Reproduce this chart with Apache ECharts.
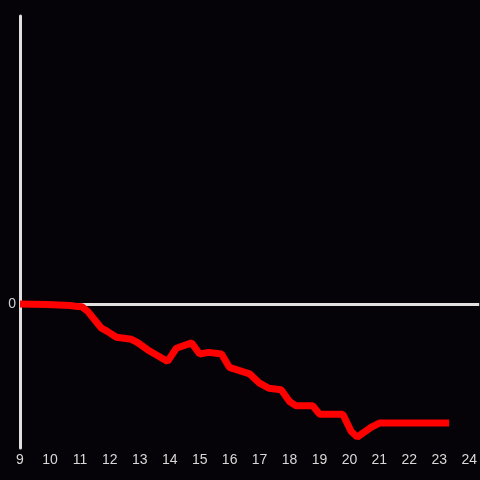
<!DOCTYPE html>
<html>
<head>
<meta charset="utf-8">
<script src="https://cdn.jsdelivr.net/npm/echarts@6/dist/echarts.min.js"></script>
<style>
  html, body { margin: 0; padding: 0; background: #050307; }
  #chart { width: 480px; height: 480px; }
</style>
</head>
<body>
<div id="chart"></div>
<script>
  // hours of day (x) and value (y)
  var hours = [9.00, 9.90, 10.67, 10.93, 11.07, 11.27, 11.72, 11.93, 12.22, 12.72, 12.93, 13.27,
    13.93, 14.22, 14.73, 15.00, 15.30, 15.73, 15.99, 16.67, 17.00, 17.31, 17.72, 18.00,
    18.22, 18.78, 19.00, 19.78, 20.06, 20.26, 20.72, 21.00, 23.33];
  var values = [0, -0.003, -0.01, -0.018, -0.019, -0.053, -0.168, -0.192, -0.231, -0.245, -0.268, -0.319,
    -0.399, -0.307, -0.27, -0.347, -0.336, -0.347, -0.44, -0.485, -0.55, -0.585, -0.596, -0.677,
    -0.707, -0.707, -0.765, -0.765, -0.885, -0.924, -0.857, -0.827, -0.827];

  var points = hours.map(function (h, i) { return [h, values[i]]; });

  var chart = echarts.init(document.getElementById('chart'));
  chart.setOption({
    backgroundColor: '#050307',
    animation: false,
    grid: { left: 20, right: 0, top: 16, bottom: 32 },
    xAxis: {
      type: 'value',
      min: 9,
      max: 24.3333,
      interval: 1,
      axisLine: { show: false },
      axisTick: { show: false },
      splitLine: { show: false },
      axisLabel: {
        color: '#d8d8d8',
        fontSize: 14,
        margin: 5,
        showMaxLabel: false,
        hideOverlap: false,
        fontFamily: 'Liberation Sans'
      }
    },
    yAxis: {
      type: 'value',
      min: -1,
      max: 2,
      interval: 1,
      axisLine: { show: true, onZero: false, lineStyle: { color: '#e0e0e0', width: 3 } },
      axisTick: { show: false },
      splitLine: { show: false },
      axisLabel: {
        color: '#d0d0d0',
        fontSize: 14,
        margin: 4,
        fontFamily: 'Liberation Sans',
        formatter: function (v) { return v === 0 ? '0' : ''; }
      }
    },
    series: [{
      type: 'line',
      data: points,
      showSymbol: false,
      lineStyle: { color: '#ff0000', width: 7 },
      z: 3,
      markLine: {
        silent: true,
        symbol: 'none',
        label: { show: false },
        lineStyle: { color: '#e0e0e0', width: 3, type: 'solid' },
        data: [{ yAxis: 0 }],
        z: 1
      }
    }]
  });
</script>
</body>
</html>
